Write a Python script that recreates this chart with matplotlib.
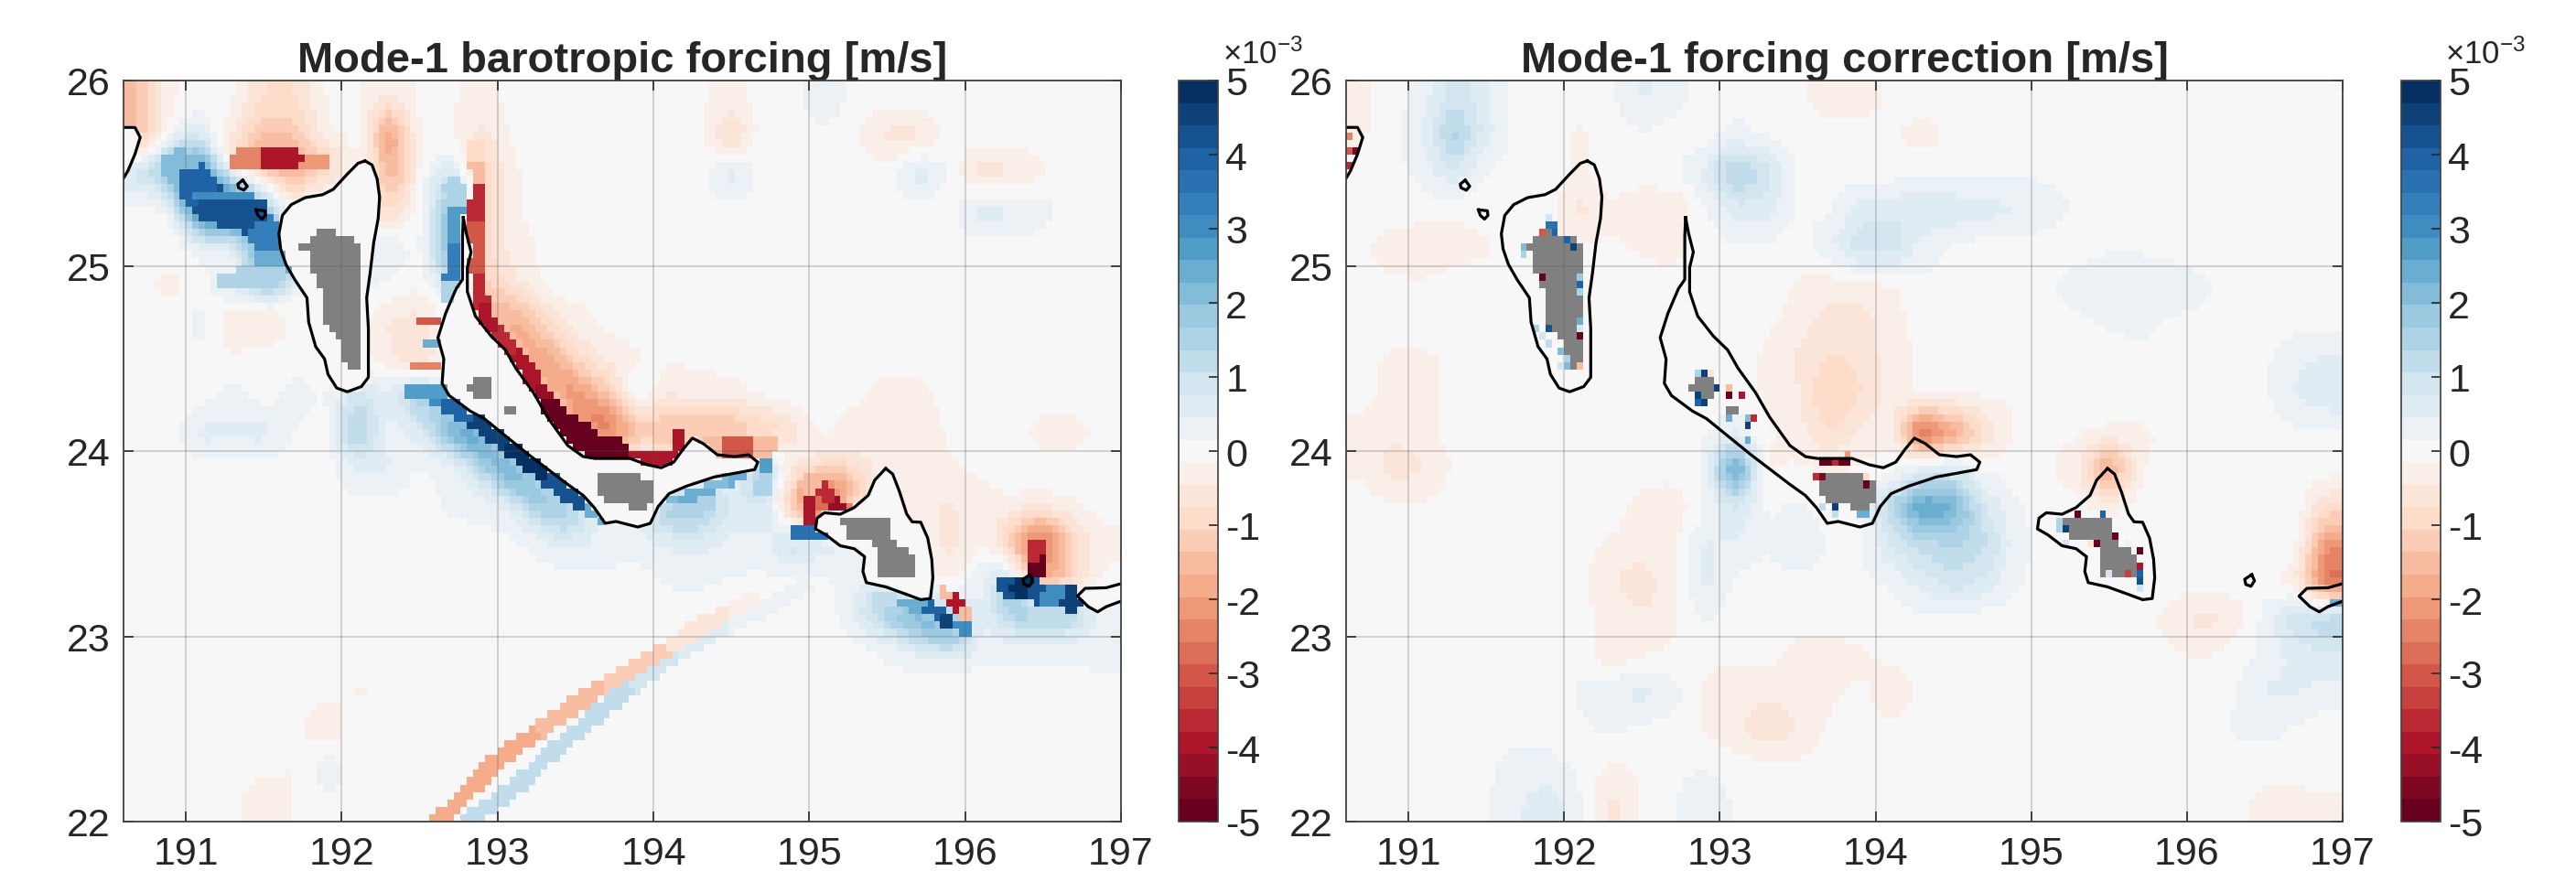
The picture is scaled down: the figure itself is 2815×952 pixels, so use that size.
import numpy as np
import matplotlib
matplotlib.use('Agg')
import matplotlib.pyplot as plt
from matplotlib.colors import ListedColormap, Normalize
from matplotlib.path import Path

plt.rcParams['font.family'] = ['Liberation Sans', 'DejaVu Sans']
plt.rcParams['mathtext.default'] = 'regular'

# Background fields, in 1e-4 m/s
# rows run from lat 25.9 down to 22.1, columns from lon 190.7 to 196.9 (0.2 deg apart)
left_field = [
    [-14,-2,0,-1,-8,-8,-1,-1,-4,-1,-1,-3,0,0,0,0,0,0,-1,-3,0,0,5,0,0,0,0,0,0,0,0,0],
    [-14,0,6,-4,-14,-12,-2,0,-14,-1,-1,-6,-1,0,0,0,0,0,-1,-9,0,0,0,-1,-6,-6,0,0,0,0,0,0],
    [9,1,12,3,-6,-10,-4,-1,-12,0,4,-10,-2,0,0,0,0,0,0,7,0,0,0,0,0,7,1,-7,-5,-2,0,0],
    [0,0,14,18,0,-2,0,0,-9,0,10,-10,-2,0,0,0,0,0,0,0,0,0,0,0,0,0,0,7,5,3,0,0],
    [0,0,3,-2,6,0,0,3,5,0,10,-10,-3,-1,0,0,0,0,0,0,0,0,0,0,0,0,0,0,0,0,0,0],
    [0,-3,0,6,10,0,0,3,1,-1,5,-8,-4,-1,0,0,0,0,0,0,0,0,0,0,0,0,0,0,0,0,0,0],
    [0,0,3,-5,-5,-1,0,0,-5,-6,0,-6,-8,-5,-3,-1,0,0,0,0,0,0,0,0,0,0,0,0,0,0,0,0],
    [0,-1,1,-1,0,0,0,0,-4,-8,0,0,-8,-7,-4,-3,-2,-1,-1,0,0,0,0,0,0,0,0,0,0,0,0,0],
    [0,0,0,3,0,3,1,10,5,16,0,0,-3,-10,-9,-6,5,-4,-3,-3,-1,0,0,-1,-3,-3,0,0,0,0,0,0],
    [0,0,6,5,6,1,0,16,3,6,14,14,0,-3,-18,-14,-8,-10,-7,-7,-5,-3,-1,-3,-4,-4,-1,0,0,-3,-3,0],
    [0,0,0,0,0,0,0,5,5,1,3,8,14,10,0,0,0,0,0,6,14,-4,-6,-3,-3,-2,-2,-1,0,0,0,0],
    [0,0,0,0,0,0,0,0,0,0,2,3,4,10,12,0,0,10,10,4,8,-8,-22,0,0,-4,-5,-3,-2,-2,-2,0],
    [0,0,0,0,0,0,0,0,0,0,0,0,1,3,5,4,3,5,6,4,3,10,6,4,0,0,-6,-2,-7,-12,-7,-3],
    [0,0,0,0,0,0,0,0,0,0,0,0,0,0,0,0,0,2,2,1,1,1,1,3,0,0,-2,4,14,-6,-8,0],
    [0,0,0,0,0,0,0,0,0,0,0,0,0,0,0,0,0,0,0,0,0,0,0,4,8,12,12,4,10,10,8,3],
    [0,0,0,0,0,0,0,0,0,0,0,0,0,0,0,0,0,0,0,0,0,0,0,0,2,3,3,2,2,2,2,3],
    [0,0,0,0,0,0,0,-2,-1,0,0,0,0,0,0,0,0,0,0,0,0,0,0,0,0,0,0,0,0,0,0,0],
    [0,0,0,0,0,0,-5,1,-1,0,0,0,0,0,0,0,0,0,0,0,0,0,0,0,0,0,0,0,0,0,0,0],
    [0,0,0,0,0,-2,4,0,0,0,0,0,0,0,0,0,0,0,0,0,0,0,0,0,0,0,0,0,0,0,0,0],
    [0,0,0,0,-5,-1,1,0,0,0,0,0,0,0,0,0,0,0,0,0,0,0,0,0,0,0,0,0,0,0,0,0],
]

right_field = [
    [-2,0,3,10,5,0,0,-1,1,5,3,0,0,0,-1,-3,-3,-1,0,0,0,0,0,0,0,0,0,0,0,0,0,0],
    [-2,0,5,16,6,0,0,-2,0,1,0,0,3,1,0,0,0,-1,-3,-1,0,0,0,0,0,0,0,0,0,0,0,0],
    [0,0,3,7,1,0,0,-2,0,0,1,5,16,10,1,0,0,0,1,1,1,1,1,1,1,1,1,0,0,0,0,0],
    [0,0,0,-1,0,0,0,-6,-2,-4,-5,1,6,6,1,1,6,7,8,7,6,5,3,1,0,0,0,0,0,0,0,0],
    [-1,-3,-4,-3,-2,0,-1,-1,-1,-2,-3,0,1,1,0,4,10,10,3,1,0,0,0,0,1,1,0,0,0,0,0,0],
    [-1,-1,-1,0,0,0,0,0,0,0,0,0,0,1,-2,-3,-3,-2,1,1,1,0,1,3,4,4,4,2,1,0,0,0],
    [0,0,0,-1,0,0,0,0,0,0,0,0,0,-1,-3,-6,-6,-3,0,0,0,0,0,1,2,3,1,1,0,0,0,0],
    [-1,-2,-2,-1,0,0,1,0,0,0,0,0,0,-2,-5,-8,-7,-3,-1,0,0,0,0,0,0,0,0,0,0,1,4,5],
    [-1,-2,-2,-1,0,0,0,0,0,0,0,0,0,-2,-4,-11,-8,-3,-1,-1,-1,-1,-1,-1,0,0,0,0,0,1,5,7],
    [-2,-4,-3,0,0,0,0,0,0,0,0,1,4,-1,-3,-8,-4,-2,-30,-20,-8,-1,-1,-1,-2,-2,-1,0,0,0,1,1],
    [-2,-6,-5,-1,0,0,0,0,0,0,0,2,28,-2,-1,-2,-1,0,6,8,1,0,-1,-4,-20,-2,0,0,0,0,0,0],
    [0,-1,-1,0,0,0,0,0,0,-3,-4,1,8,1,2,0,0,14,28,24,8,2,0,0,-3,0,0,0,0,1,1,-8],
    [0,0,0,0,0,0,0,0,-2,-2,-2,5,4,2,5,1,1,8,12,14,12,3,0,0,0,0,0,0,1,0,0,-22],
    [0,0,0,0,0,0,0,-1,-4,-7,-2,6,1,0,0,1,1,2,6,10,7,2,0,0,0,0,0,0,0,0,-4,-28],
    [0,0,0,0,0,0,0,0,-3,-4,-2,2,0,0,0,0,0,0,1,1,0,0,0,0,0,0,-3,-6,-4,3,10,14],
    [-1,-1,0,0,0,0,0,1,-4,-2,-1,-1,-1,0,-3,-3,-2,-1,0,0,0,0,0,0,0,0,-1,-2,0,2,6,7],
    [0,0,0,0,0,0,0,2,4,6,3,-2,-3,-4,-3,-2,-1,-3,-1,0,0,0,0,0,0,0,0,0,1,5,5,3],
    [0,0,0,0,0,0,1,1,2,1,0,-2,-4,-7,-5,-1,-1,-1,-1,0,0,0,0,0,0,0,0,0,2,3,1,0],
    [0,0,0,0,1,3,2,1,-2,-1,1,1,0,-1,-1,0,0,0,0,0,0,0,0,0,0,0,0,0,-1,-1,-1,0],
    [1,1,0,0,1,4,7,2,-6,-1,1,5,1,0,0,0,0,0,0,0,0,0,0,0,0,0,0,0,-1,-2,-2,-2],
]

# Soft bands around the coast in the left panel: (lons, lats, values in 1e-4 m/s)
left_halos = [
    ([192.95,193.15,193.4,193.7,193.95], [24.85,24.7,24.48,24.28,24.18], [-5,-7,-7,-6,-4]),
    ([192.98,193.25,193.48,193.8], [24.75,24.5,24.3,24.1], [-12,-14,-16,-16]),
    ([192.65,192.9,193.15,193.4], [24.2,24.02,23.82,23.62], [12,14,12,8]),
    ([190.95,191.07,191.18,191.4,191.52,191.58], [25.53,25.44,25.32,25.29,25.16,25.02], [14,20,20,20,20,16]),
    ([192.7,192.72,192.72], [25.45,25.2,25.0], [8,12,12]),
    ([191.3,191.6,191.9], [25.57,25.57,25.57], [-8,-10,-8]),
    ([192.3,192.37], [25.8,25.45], [-10,-9]),
    ([196.3,196.5,196.7], [23.17,23.17,23.15], [14,14,12]),
    ([196.46,196.46], [23.52,23.36], [-12,-12]),
    ([195.0,195.25], [23.75,23.8], [-12,-12]),
    ([194.0,194.4,194.8], [24.12,24.12,24.12], [-6,-10,-6]),
    ([194.0,194.25,194.5], [23.65,23.66,23.72], [8,10,6]),
    ([195.4,195.7,195.95], [23.18,23.08,23.0], [8,12,12]),
]
left_halo_widths = [50,24,32,60,36,36,22,24,60,48,40,24,34]

# Narrow features of the left panel, drawn sharp on top of the rest
left_ribbons = [
    ([192.86,192.87,192.87,192.86,192.88,192.93,193.03,193.18,193.34], [25.65,25.5,25.37,25.1,24.85,24.72,24.6,24.45,24.25], [-8,-14,-35,-30,-35,-38,-35,-38,-42]),
    ([193.34,193.5,193.62,193.75], [24.2,24.1,24.03,24.0], [-50,-50,-50,-48]),
    ([192.55,192.75,192.93,193.2,193.45,193.65], [24.31,24.22,24.12,23.94,23.76,23.66], [30,38,45,48,42,25]),
    ([190.95,191.07,191.18,191.4,191.52,191.58], [25.53,25.44,25.32,25.29,25.16,25.02], [20,38,42,42,32,25]),
    ([191.1,191.38], [25.38,25.38], [30,30]),
    ([191.25,191.6], [24.92,24.97], [15,15]),
    ([191.35,191.6,191.88], [25.57,25.57,25.56], [-25,-38,-20]),
    ([192.72,192.75,192.74,192.69], [25.42,25.2,25.0,24.85], [15,28,32,14]),
    ([192.8,193.09,193.4,193.71,194.0,194.3,194.64,194.97], [22.0,22.17,22.41,22.63,22.82,22.98,23.12,23.27], [13,13,12,11,9,6,4,3]),
    ([192.62,193.0,193.5,193.86,194.3,194.64], [22.0,22.33,22.63,22.82,23.05,23.2], [-18,-17,-15,-12,-6,-3]),
    ([195.0,195.02,195.12,195.18,195.3], [23.65,23.84,23.78,23.7,23.69], [-38,-15,-35,-42,-25]),
    ([194.93,195.1], [23.55,23.55], [35,35]),
    ([195.45,195.68,195.8,195.88,196.0], [23.2,23.17,23.14,23.08,23.04], [12,25,40,45,30]),
    ([195.86,195.93,196.0], [23.23,23.19,23.13], [-15,-40,-15]),
    ([196.27,196.37,196.46,196.56,196.68], [23.27,23.26,23.24,23.22,23.2], [42,48,42,30,45]),
    ([196.46,196.47], [23.48,23.36], [-35,-48]),
    ([193.9,194.1], [23.98,23.97], [-40,-40]),
    ([194.17,194.16], [24.0,24.08], [-38,-38]),
    ([194.35,194.55,194.75], [24.02,24.03,24.03], [-15,-30,-15]),
    ([194.05,194.25,194.4,194.58], [23.73,23.76,23.82,23.87], [22,25,20,25]),
    ([194.72,194.7], [23.93,23.8], [28,15]),
    ([194.34,194.34], [23.78,23.7], [25,15]),
    ([192.52,192.64], [24.69,24.69], [-30,-30]),
    ([192.57,192.65], [24.58,24.58], [25,25]),
    ([192.5,192.64], [24.46,24.46], [-25,-25]),
    ([192.44,192.66], [24.33,24.33], [28,28]),
]
left_ribbon_widths = [17,30,18,40,14,20,22,22,18,18,16,16,14,14,26,22,16,16,22,12,16,16,12,12,14,16]

# Single grid cells beside the land in the right panel
right_cell_lon = [191.89,191.93,191.88,191.948,191.84,192.034,192.072,191.76,191.76,191.84,192.117,192.117,192.117,192.117,192.117,192.113,191.914,191.836,191.87,191.96,191.914,192.0,192.04,192.095,192.08,191.99,191.86,
    192.898,192.86,192.84,192.95,192.86,192.96,192.84,192.88,192.91,193.07,193.12,193.07,193.23,193.05,193.18,193.18,193.18,
    193.66,193.7,193.74,193.78,193.82,193.62,193.66,193.81,193.95,193.95,193.72,193.72,193.67,193.89,193.93,
    195.28,195.32,195.44,195.48,195.2,195.2,195.235,195.215,195.52,195.4,195.36,195.715,195.715,195.715,195.715,195.715,195.69,195.5,195.6,195.64,
    190.63,190.67,190.61,190.63,190.61,196.95,196.99]
right_cell_lat = [25.236,25.236,25.27,25.198,25.198,25.157,25.116,25.107,25.074,24.959,24.959,24.917,24.876,24.72,24.678,24.637,24.678,24.678,24.637,24.555,24.563,24.513,24.472,24.472,24.44,24.47,24.6,
    24.43,24.43,24.43,24.43,24.315,24.33,24.27,24.27,24.27,24.3,24.3,24.35,24.19,24.19,24.12,24.08,24.16,
    23.92,23.92,23.92,23.92,23.92,23.88,23.88,23.97,23.84,23.88,23.72,23.68,23.72,23.64,23.64,
    23.64,23.64,23.68,23.64,23.61,23.57,23.565,23.52,23.56,23.52,23.52,23.44,23.4,23.365,23.32,23.28,23.25,23.32,23.32,23.48,
    25.63,25.63,25.7,25.6,25.55,23.2,23.2]
right_cell_val = [35,35,10,40,-30,40,45,22,15,-48,18,40,15,25,10,-48,42,15,12,22,12,14,20,-10,-15,8,8,
    45,40,15,-5,45,45,40,45,45,-50,-40,-15,-35,25,45,25,20,
    -50,-50,-35,-50,-50,-35,-45,-20,-50,-10,45,12,12,25,25,
    -12,-48,-8,40,15,15,45,8,-50,-48,-5,-48,-48,-38,38,42,10,10,-32,4,
    -50,-45,-25,-30,-35,25,25]

# Land cells: top lat, bottom lat, west lon, east lon
land_top = [25.215,25.173,25.14,25.1,25.06,25.016,24.975,24.893,24.695,24.653,24.612,24.497,
    24.417,24.373,24.33,24.254,
    23.898,23.86,23.82,23.778,23.736,23.7,
    23.659,23.62,23.58,23.539,23.498,23.456,23.333]
land_bot = [25.173,25.14,25.1,25.06,25.016,24.975,24.893,24.695,24.653,24.612,24.497,24.455,
    24.373,24.33,24.295,24.213,
    23.86,23.82,23.778,23.736,23.7,23.66,
    23.62,23.58,23.539,23.498,23.456,23.333,23.3]
land_west = [191.867,191.788,191.788,191.743,191.788,191.827,191.867,191.905,191.946,191.986,192.025,192.063,
    192.863,192.824,192.863,193.065,
    193.703,193.658,193.658,193.703,193.74,193.86,
    195.366,195.22,195.254,195.411,195.456,195.456,195.613]
land_east = [191.946,192.025,192.063,192.099,192.099,192.099,192.099,192.099,192.099,192.099,192.099,192.099,
    192.941,192.941,192.941,193.1,
    193.86,193.917,193.978,193.978,193.94,193.94,
    195.456,195.494,195.494,195.535,195.613,195.692,195.692]

# Coast lines
coast1_lon = [192.149,192.194,192.227,192.243,192.234,192.205,192.182,192.16,192.171,192.171,192.171,192.126,192.036,191.968,191.912,191.89,191.833,191.788,191.777,191.698,191.642,191.608,191.597,191.619,191.676,191.766,191.878,191.946,192.036,192.104,192.149]
coast1_lat = [25.566,25.545,25.47,25.371,25.256,25.124,24.959,24.827,24.662,24.497,24.398,24.348,24.32,24.34,24.414,24.497,24.563,24.695,24.827,24.926,25.008,25.091,25.173,25.272,25.33,25.368,25.384,25.413,25.495,25.553,25.566]
coast2_lon = [192.78,192.80,192.83,192.806,192.806,192.858,192.959,193.05,193.117,193.23,193.32,193.45,193.55,193.625,193.85,193.96,194.05,194.13,194.19,194.25,194.32,194.41,194.52,194.61,194.67,194.65,194.52,194.39,194.21,194.1,194.03,193.98,193.9,193.76,193.69,193.62,193.55,193.45,193.2,192.914,192.824,192.689,192.644,192.655,192.617,192.667,192.734,192.775,192.775,192.78]
coast2_lat = [25.26,25.173,25.074,24.99,24.86,24.728,24.62,24.546,24.447,24.315,24.183,24.03,23.97,23.96,23.96,23.926,23.91,23.94,24.01,24.07,24.04,23.98,23.97,23.98,23.94,23.9,23.88,23.86,23.81,23.77,23.7,23.61,23.59,23.62,23.61,23.695,23.76,23.82,23.98,24.175,24.216,24.3,24.365,24.497,24.612,24.744,24.876,24.926,25.157,25.26]
coast3_lon = [195.49,195.535,195.58,195.625,195.66,195.715,195.76,195.786,195.793,195.777,195.715,195.625,195.49,195.366,195.344,195.355,195.288,195.198,195.108,195.04,195.05,195.097,195.198,195.288,195.378,195.42,195.49]
coast3_lat = [23.906,23.876,23.778,23.66,23.618,23.616,23.53,23.415,23.316,23.204,23.198,23.226,23.267,23.29,23.35,23.43,23.473,23.489,23.547,23.58,23.638,23.667,23.659,23.695,23.761,23.843,23.906]
coast4_lon = [197.1,196.995,196.905,196.77,196.72,196.79,196.85,196.905,196.995,197.1]
coast4_lat = [23.3,23.283,23.262,23.259,23.217,23.16,23.132,23.16,23.188,23.18]
coast5_lon = [190.5,190.6,190.673,190.707,190.673,190.628,190.6,190.5]
coast5_lat = [25.747,25.747,25.747,25.693,25.602,25.512,25.473,25.4]
islet1_lon = [191.365,191.394,191.372,191.338,191.333,191.365]
islet1_lat = [25.462,25.429,25.408,25.421,25.441,25.462]
islet2_lon = [191.45,191.507,191.511,191.489,191.462,191.45]
islet2_lat = [25.302,25.297,25.272,25.252,25.272,25.302]
islet3_lon = [196.416,196.434,196.411,196.378,196.371,196.416]
islet3_lat = [23.333,23.30,23.27,23.28,23.308,23.333]
coast_lons = [coast1_lon, coast2_lon, coast3_lon, coast4_lon, coast5_lon, islet1_lon, islet2_lon, islet3_lon]
coast_lats = [coast1_lat, coast2_lat, coast3_lat, coast4_lat, coast5_lat, islet1_lat, islet2_lat, islet3_lat]

titles = ['Mode-1 barotropic forcing [m/s]', 'Mode-1 forcing correction [m/s]']
lon_ticks = [191, 192, 193, 194, 195, 196, 197]
lat_ticks = [22, 23, 24, 25, 26]
cbar_ticks = [-5, -4, -3, -2, -1, 0, 1, 2, 3, 4, 5]

W, H = 2815, 953
cmap = plt.get_cmap('RdBu', 33)
norm = Normalize(-5, 5)
dark = '#262626'
land_cmap = ListedColormap(['#808080'])

# 0.04 deg model grid
grid_lon = np.arange(161) * 0.04 + 190.6
grid_lat = np.arange(101) * 0.04 + 22.0
mid_lon, mid_lat = np.meshgrid(grid_lon[:-1] + 0.02, grid_lat[:-1] + 0.02)


def px_axes(fig, x0, x1, top, bottom):
    return fig.add_axes([x0 / W, 1 - bottom / H, (x1 - x0) / W, (bottom - top) / H])


def box(a, n):
    # running mean along both axes, so the coarse readings do not show as squares
    pad = np.pad(a, n, mode='edge')
    kernel = np.ones(n) / n
    pad = np.apply_along_axis(lambda r: np.convolve(r, kernel, mode='same'), 0, pad)
    pad = np.apply_along_axis(lambda r: np.convolve(r, kernel, mode='same'), 1, pad)
    return pad[n:-n, n:-n]


def on_grid(rows):
    a = np.array(rows, dtype=float)[::-1] / 10
    return box(box(np.repeat(np.repeat(a, 5, axis=0), 5, axis=1), 5), 3)


def paint(cells, lons, lats, vals, width):
    # width in pixels; one degree is about 170 px across and 203 px up
    for k in range(len(lons) - 1):
        ax_, ay_ = lons[k] * 170.4, lats[k] * 203
        bx_, by_ = lons[k + 1] * 170.4, lats[k + 1] * 203
        px_, py_ = mid_lon * 170.4, mid_lat * 203
        t = ((px_ - ax_) * (bx_ - ax_) + (py_ - ay_) * (by_ - ay_)) / ((bx_ - ax_) ** 2 + (by_ - ay_) ** 2)
        t = np.clip(t, 0, 1)
        d = np.hypot(px_ - ax_ - t * (bx_ - ax_), py_ - ay_ - t * (by_ - ay_))
        hit = d <= width / 2
        cells[hit & (t < 0.5)] = vals[k] / 10
        cells[hit & (t >= 0.5)] = vals[k + 1] / 10


land = np.full((100, 160), np.nan)
for t, b, w, e in zip(land_top, land_bot, land_west, land_east):
    jj = (mid_lat[:, 0] > b) & (mid_lat[:, 0] <= t)
    ii = (mid_lon[0] > w - 0.008) & (mid_lon[0] < e + 0.008)
    land[np.ix_(jj, ii)] = 1

# left panel: coarse field + soft bands + sharp ribbons, nothing inside the coast
left_cells = on_grid(left_field)
halo_cells = np.zeros((100, 160))
for (lons, lats, vals), width in zip(left_halos, left_halo_widths):
    paint(halo_cells, lons, lats, vals, width)
left_cells = left_cells + box(box(halo_cells, 5), 3)
for (lons, lats, vals), width in zip(left_ribbons, left_ribbon_widths):
    paint(left_cells, lons, lats, vals, width)
cell_pts = np.column_stack([mid_lon.ravel(), mid_lat.ravel()])
for k in range(5):
    inside = Path(np.column_stack([coast_lons[k], coast_lats[k]])).contains_points(cell_pts)
    left_cells[inside.reshape(mid_lon.shape)] = 0.0

right_extra = np.full((100, 160), np.nan)
for lon, lat, v in zip(right_cell_lon, right_cell_lat, right_cell_val):
    right_extra[int((lat - 22.0) / 0.04), int((lon - 190.6) / 0.04)] = v / 10

fig = plt.figure(figsize=(W / 100, H / 100), dpi=100)
axes_px = [(135, 1225), (1471, 2560)]
cbar_px = [(1288, 1331), (2624, 2667)]
panel_cells = [left_cells, on_grid(right_field)]

for n in range(2):
    ax = px_axes(fig, axes_px[n][0], axes_px[n][1], 89, 899)
    ax.pcolormesh(grid_lon, grid_lat, panel_cells[n], cmap=cmap, norm=norm, zorder=1)
    ax.pcolormesh(grid_lon, grid_lat, land, cmap=land_cmap, zorder=2)
    if n == 1:
        ax.pcolormesh(grid_lon, grid_lat, right_extra, cmap=cmap, norm=norm, zorder=3)
    for lons, lats in zip(coast_lons, coast_lats):
        ax.plot(lons, lats, color='black', lw=2.3, zorder=4)
    ax.set_xlim(190.6, 197)
    ax.set_ylim(22, 26)
    ax.set_xticks(lon_ticks)
    ax.set_yticks(lat_ticks)
    ax.grid(True, color='#555555', alpha=0.3, lw=1.1, zorder=5)
    ax.set_axisbelow(False)
    ax.tick_params(direction='in', length=8, width=1.2, top=True, right=True, color=dark,
                   labelsize=31, labelcolor=dark)
    ax.tick_params(axis='x', pad=11)
    ax.tick_params(axis='y', pad=10)
    for s in ax.spines.values():
        s.set_color('#404040')
        s.set_linewidth(1.3)
        s.set_zorder(6)
    ax.set_title(titles[n], fontsize=33.9, fontweight='bold', color=dark, pad=7)

    cax = px_axes(fig, cbar_px[n][0], cbar_px[n][1], 89, 899)
    cb = fig.colorbar(plt.cm.ScalarMappable(norm=norm, cmap=cmap), cax=cax, ticks=cbar_ticks)
    cb.ax.tick_params(direction='in', length=7, width=1.2, color=dark, labelsize=31,
                      labelcolor=dark, pad=6)
    cb.outline.set_edgecolor('#404040')
    cb.outline.set_linewidth(1.2)
    cb.ax.set_yticklabels([str(t) for t in cbar_ticks])
    fig.text((cbar_px[n][0] + 48) / W, 1 - 70 / H, '×10$^{-3}$', fontsize=25, color=dark,
             ha='left', va='baseline')

fig.savefig('out.png', dpi=100)
